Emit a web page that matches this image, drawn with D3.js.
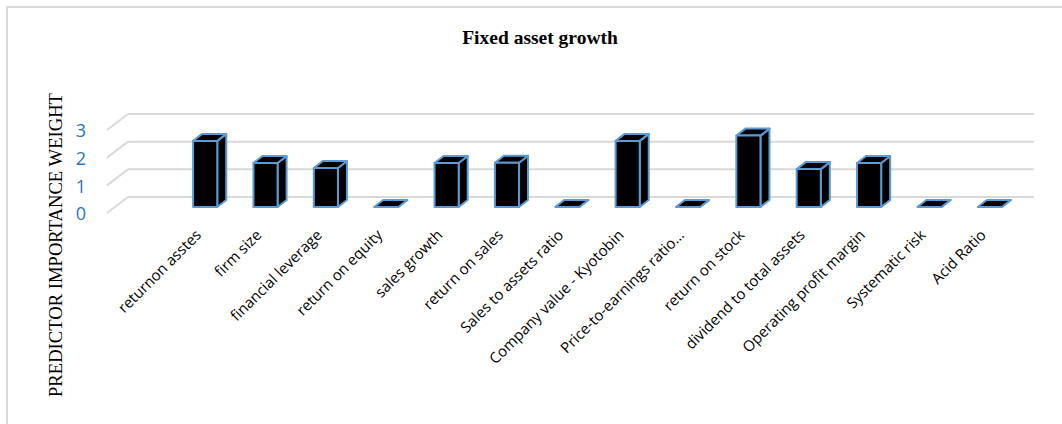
<!DOCTYPE html>
<html>
<head>
<meta charset="utf-8">
<script src="https://cdn.jsdelivr.net/npm/d3@7"></script>
<style>
  body { margin: 0; background: #fff; }
  svg { display: block; }
</style>
</head>
<body>
<div id="chart"></div>
<script>
'use strict'

// Data.
const categories = [
    'returnon asstes', 'firm size', 'financial leverage', 'return on equity',
    'sales growth', 'return on sales', 'Sales to assets ratio',
    'Company value - Kyotobin', 'Price-to-earnings ratio…', 'return on stock',
    'dividend to total assets', 'Operating profit margin', 'Systematic risk', 'Acid Ratio'
];
const weights = [2.39, 1.59, 1.41, 0, 1.59, 1.6, 0, 2.39, 0, 2.58, 1.37, 1.59, 0, 0];
const yTicks = [0, 1, 2, 3];

const data = categories.map((c, i) => ({name: c, value: weights[i]}));

// Dimensions and constants
const width = 1062,
    height = 424,
    wallLeft = 128,
    wallRight = 1034,
    floorDx = -21, floorDy = 16,   // depth of the floor (back wall -> front edge)
    barFx = -13, barFy = 10,       // bar front face offset from back wall
    barDx = 9, barDy = -7;         // bar depth (front -> back)

const x = d3.scaleBand()
    .domain(categories)
    .range([188, 1033])
    .paddingInner(0.6)
    .paddingOuter(0.3);

const y = d3.scaleLinear()
    .domain([0, 3])
    .range([197, 114]);

const svg = d3.select('#chart')
    .append('svg')
        .attr('width', width)
        .attr('height', height)
        .attr('viewBox', [0, 0, width, height]);

// Chart frame.
svg.append('path')
    .attr('d', `M7,${height} L7,7 L${width},7`)
    .attr('fill', 'none')
    .attr('stroke', '#d9d9d9')
    .attr('stroke-width', 2);

// Title.
svg.append('text')
    .attr('x', 540)
    .attr('y', 44)
    .attr('text-anchor', 'middle')
    .attr('font-family', '"Liberation Serif", "Times New Roman", serif')
    .attr('font-weight', 'bold')
    .attr('font-size', 19.5)
    .text('Fixed asset growth');

// Y axis title.
svg.append('text')
    .attr('transform', 'translate(62,245) rotate(-90)')
    .attr('text-anchor', 'middle')
    .attr('font-family', '"Liberation Serif", "Times New Roman", serif')
    .attr('font-size', 19)
    .attr('textLength', 304)
    .attr('lengthAdjust', 'spacingAndGlyphs')
    .text('PREDICTOR IMPORTANCE WEIGHT');

// Gridlines on the back wall and the side of the floor.
const grid = svg.append('g')
    .attr('stroke', '#d9d9d9')
    .attr('stroke-width', 2)
    .attr('fill', 'none');

grid.selectAll('line.wall')
    .data(yTicks)
    .join('line')
        .attr('class', 'wall')
        .attr('x1', wallLeft)
        .attr('x2', wallRight)
        .attr('y1', d => y(d))
        .attr('y2', d => y(d));

grid.selectAll('line.side')
    .data(yTicks)
    .join('line')
        .attr('class', 'side')
        .attr('x1', wallLeft)
        .attr('x2', wallLeft + floorDx)
        .attr('y1', d => y(d))
        .attr('y2', d => y(d) + floorDy);

// Tick labels.
svg.append('g')
    .selectAll('text')
    .data(yTicks)
    .join('text')
        .attr('x', 86)
        .attr('y', d => y(d) + floorDy + 1)
        .attr('dy', '0.35em')
        .attr('text-anchor', 'end')
        .attr('fill', '#2e75b6')
        .attr('font-family', '"Open Sans", sans-serif')
        .attr('font-size', 18)
        .text(d => d);

// 3D bars.
const bw = x.bandwidth();
const bars = svg.append('g')
    .attr('fill', '#000')
    .attr('stroke', '#5b9bd5')
    .attr('stroke-width', 2)
    .attr('stroke-linejoin', 'round');

const bar = bars.selectAll('g.bar')
    .data(data)
    .join('g')
        .attr('class', 'bar');

const frontX = d => x(d.name) + barFx;
const topY = d => y(d.value) + barFy;
const baseY = y(0) + barFy;

// side face
bar.append('path')
    .attr('d', d => {
        const r = frontX(d) + bw, t = topY(d);
        return `M${r},${t} L${r + barDx},${t + barDy} L${r + barDx},${baseY + barDy} L${r},${baseY} Z`;
    });

// top face
bar.append('path')
    .attr('d', d => {
        const l = frontX(d), t = topY(d);
        return `M${l},${t} L${l + barDx},${t + barDy} L${l + bw + barDx},${t + barDy} L${l + bw},${t} Z`;
    });

// front face
bar.append('rect')
    .attr('x', frontX)
    .attr('y', topY)
    .attr('width', bw)
    .attr('height', d => baseY - topY(d));

// Category labels.
svg.append('g')
    .selectAll('text')
    .data(categories)
    .join('text')
        .attr('transform', d => `translate(${x(d) + barFx + bw / 2 - 3},236) rotate(-45)`)
        .attr('text-anchor', 'end')
        .attr('font-family', '"Open Sans", sans-serif')
        .attr('font-size', 15)
        .attr('fill', '#000')
        .text(d => d);
</script>
</body>
</html>
